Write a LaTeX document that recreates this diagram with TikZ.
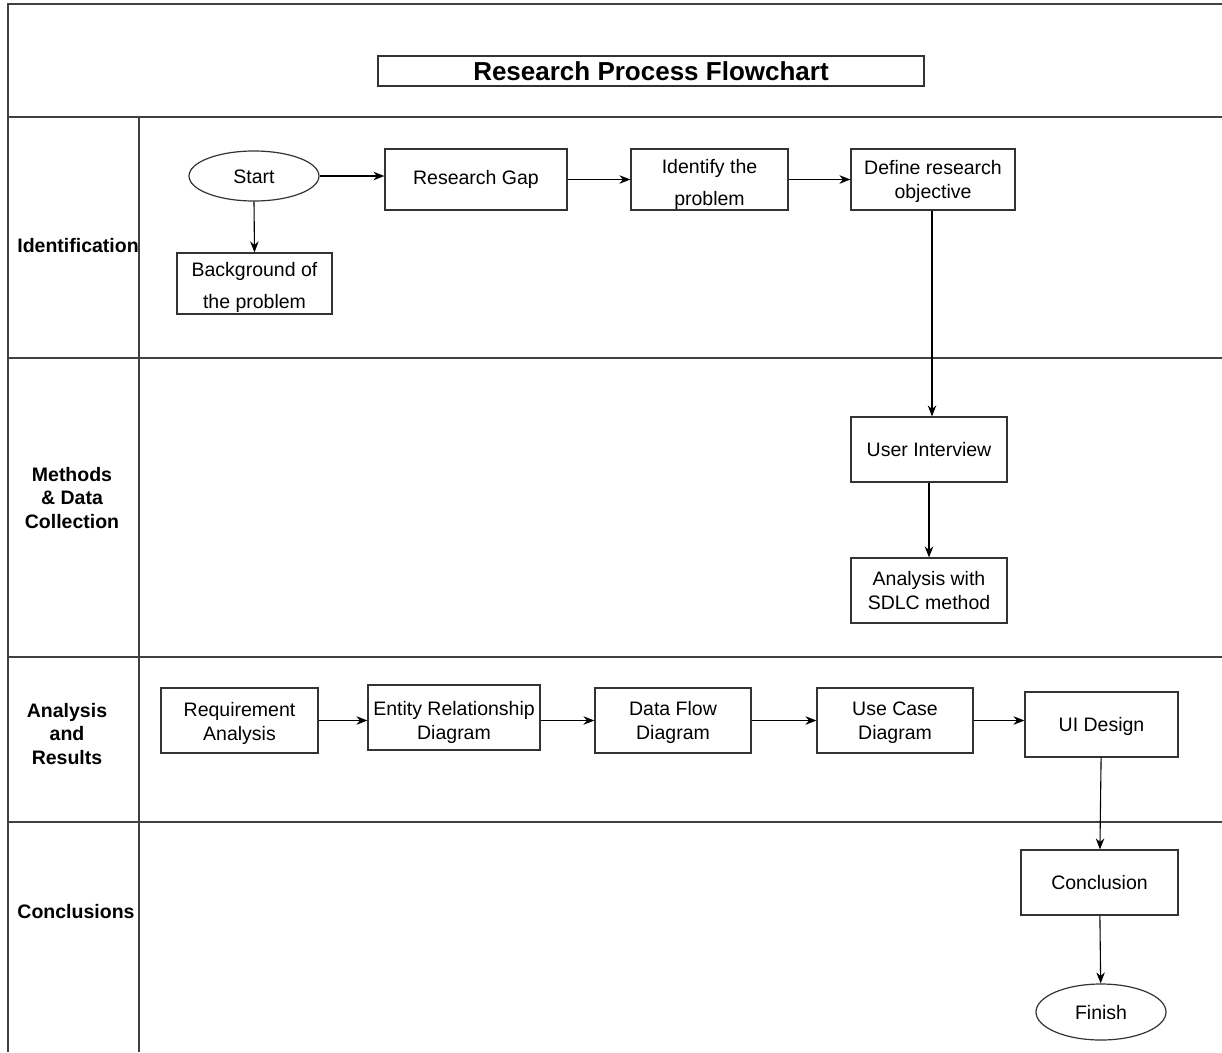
\documentclass[tikz,border=0pt]{standalone}
\usepackage{fontspec}
\setmainfont{Liberation Sans}
\usetikzlibrary{shapes.geometric,arrows.meta}

% invisible strut that lowers a node's text block a little
\newcommand{\lift}[1]{\rule{0pt}{#1pt}}

\begin{document}
\begin{tikzpicture}[x=1pt,y=-1pt,
  frame/.style={draw=black!75, line width=1.3pt},
  box/.style={draw=black!80, line width=1.2pt, rectangle, inner sep=0pt, align=center,
    font=\fontsize{19.5}{24}\selectfont},
  widebox/.style={box, font=\fontsize{19.5}{32}\selectfont},
  term/.style={draw=black!80, line width=1.2pt, ellipse, inner sep=0pt, align=center,
    font=\fontsize{19.5}{24}\selectfont},
  lane/.style={align=center, font=\bfseries\fontsize{19.5}{23.5}\selectfont},
  arr/.style={draw=black, line width=1.1pt, -{Stealth[length=11pt,width=8.5pt]}}]

\useasboundingbox (0,0) rectangle (1222,1052);

% swimlane frame
\draw[frame] (8,1052) -- (8,4) -- (1222,4);
\draw[frame] (8,117) -- (1222,117);
\draw[frame] (8,358) -- (1222,358);
\draw[frame] (8,657) -- (1222,657);
\draw[frame] (8,822) -- (1222,822);
\draw[frame] (139,117) -- (139,1052);

% title
\node[draw=black!80, line width=1.2pt, minimum width=546, minimum height=30, inner sep=0pt,
  font=\bfseries\fontsize{26}{30}\selectfont] (title) at (651,71) {Research Process Flowchart};

% lane labels
\node[lane] (l1) at (78,246) {Identification};
\node[lane] (l2) at (72,498) {Methods\\\& Data\\Collection};
\node[lane] (l3) at (67,734) {Analysis\\and\\Results};
\node[lane] (l4) at (76,912) {Conclusions};

% identification lane
\node[term, minimum width=130, minimum height=50] (start) at (254,176) {\lift{16}Start};
\node[box, minimum width=182, minimum height=61] (gap) at (476,179.5) {Research Gap};
\node[widebox, minimum width=157, minimum height=61] (ident) at (709.5,179.5) {\lift{24}Identify the\\problem};
\node[box, minimum width=164, minimum height=61] (obj) at (933,179.5) {\lift{18}Define research\\objective};
\node[widebox, minimum width=155, minimum height=61] (bg) at (254.5,283.5) {\lift{22}Background of\\the problem};

% methods lane
\node[box, minimum width=156, minimum height=65] (interv) at (929,449.5) {User Interview};
\node[box, minimum width=156, minimum height=65] (sdlc) at (929,590.5) {Analysis with\\SDLC method};

% analysis lane
\node[box, minimum width=157, minimum height=65] (req) at (239.5,720.5) {\lift{20}Requirement\\Analysis};
\node[box, minimum width=172, minimum height=65] (erd) at (454,717.5) {\lift{24}Entity Relationship\\Diagram};
\node[box, minimum width=156, minimum height=65] (dfd) at (673,720.5) {\lift{18}Data Flow\\Diagram};
\node[box, minimum width=156, minimum height=65] (ucd) at (895,720.5) {\lift{18}Use Case\\Diagram};
\node[box, minimum width=153, minimum height=65] (uid) at (1101.5,724.5) {\lift{18}UI Design};

% conclusions lane
\node[box, minimum width=157, minimum height=65] (concl) at (1099.5,882.5) {Conclusion};
\node[term, minimum width=130, minimum height=56] (finish) at (1101,1012) {\lift{16}Finish};

% connectors
\draw[arr] (start.east) -- (start.east -| gap.west);
\draw[arr] (start.south) -- (bg.north);
\draw[arr] (gap.east) -- (ident.west);
\draw[arr] (ident.east) -- (obj.west);
\draw[arr] (obj.south -| 932,0) -- (interv.north -| 932,0);
\draw[arr] (interv) -- (sdlc);
\draw[arr] (req.east) -- (req.east -| erd.west);
\draw[arr] (erd.east |- req.east) -- (dfd.west);
\draw[arr] (dfd.east) -- (ucd.west);
\draw[arr] (ucd.east) -- (ucd.east -| uid.west);
\draw[arr] (uid) -- (concl);
\draw[arr] (concl) -- (finish);
\end{tikzpicture}
\end{document}
